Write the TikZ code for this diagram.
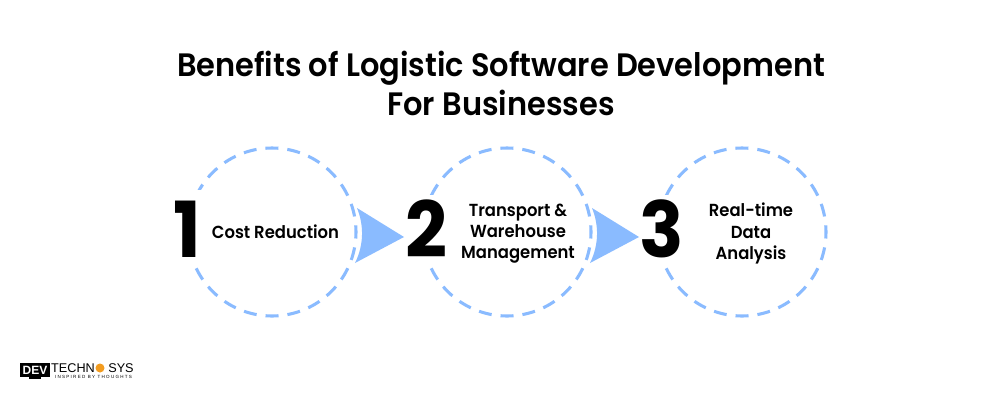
\documentclass[tikz,border=0pt]{standalone}
\usepackage{fontspec}
\setmainfont{Poppins}[FakeStretch=0.92,BoldFont={Poppins SemiBold},BoldFeatures={FakeStretch=0.94}]
\newfontfamily\logofont{Liberation Sans}
\newfontfamily\numfont{Poppins}[FakeStretch=0.95]
\definecolor{pale}{HTML}{8ABBFF}
\definecolor{logoorange}{HTML}{F39C1F}
\tikzset{
 ring/.style={draw=pale,line width=2.3pt,dash pattern=on 9.75pt off 6.74pt,dash phase=4.875pt},
 patch/.style={fill=white,draw=none,inner sep=0pt,minimum width=#1,minimum height=54pt},
 numeral/.style={font=\numfont\fontsize{58}{58}\selectfont\bfseries,text=black,inner sep=0pt},
 label/.style={font=\fontsize{13.1}{16.0}\selectfont\bfseries,align=center,inner sep=0pt,text=black},
 titletext/.style={font=\fontsize{24.3}{29.0}\selectfont\bfseries,align=center,inner sep=0pt,text=black},
 pointer/.style={fill=pale,draw=none},
}
\begin{document}
\begin{tikzpicture}[x=0.75pt,y=-0.75pt]
\useasboundingbox (0,0) rectangle (1000,400);
\fill[white] (0,0) rectangle (1000,400);
\node[titletext] (title) at (501,83.5) {Benefits of Logistic Software Development\\For Businesses};
% rings
\draw[ring] (272,232) circle (84);
\draw[ring] (507,232) circle (84);
\draw[ring] (742,232) circle (84);
% gaps behind numerals
\node[patch=30pt] (gapa) at (186,226) {};
\node[patch=38pt] (gapb) at (426,231) {};
\node[patch=38pt] (gapc) at (661,231) {};
% arrows
\fill[pointer] (357,208) .. controls (364,225) and (364,245) .. (355,263) -- (404,237) -- cycle;
\fill[pointer] (592,208) .. controls (599,225) and (599,245) .. (590,263) -- (639,237) -- cycle;
% numerals
\node[numeral] (one) at (187.5,229) {1};
\node[numeral] (two) at (426,229) {2};
\node[numeral] (three) at (662,229) {3};
% labels
\node[label] (cost) at (275.5,232) {Cost Reduction};
\node[label] (transport) at (518,233.5) {Transport \&\\Warehouse\\Management};
\node[label] (realtime) at (751,233.5) {Real-time\\Data\\Analysis};
% logo
\fill[black] (20,363) rectangle (49.5,377);
\fill[black] (29,377) rectangle (41,379);
\node[font=\logofont\fontsize{9}{9}\selectfont\bfseries,text=white,inner sep=0pt] (logodev) at (35,370) {DEV};
\node[font=\logofont\fontsize{9.5}{9.5}\selectfont,text=black,inner sep=0pt] (logotech) at (73,368) {TECHN};
\fill[logoorange] (100,368) circle (4.5);
\node[font=\logofont\fontsize{9.5}{9.5}\selectfont,text=black,inner sep=0pt] (logosys) at (121,368) {SYS};
\node[font=\logofont\fontsize{3.4}{4}\selectfont,text=black,inner sep=0pt] (logotag) at (93.5,377) {I N S P I R E D\ \ B Y\ \ T H O U G H T S};
\end{tikzpicture}
\end{document}
